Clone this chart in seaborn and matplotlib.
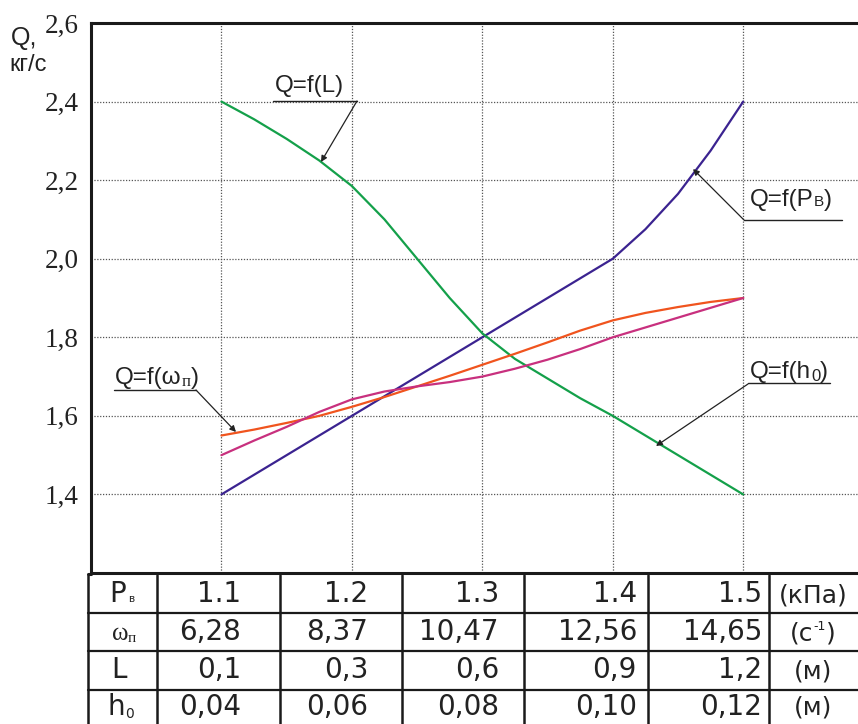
import numpy as np
import pandas as pd
import matplotlib
matplotlib.use("Agg")
import matplotlib.pyplot as plt
from matplotlib.lines import Line2D
import seaborn as sns

# ---------------- data ----------------
p_b = [1.1, 1.125, 1.15, 1.175, 1.2, 1.225, 1.25, 1.275, 1.3,
       1.325, 1.35, 1.375, 1.4, 1.425, 1.45, 1.475, 1.5]            # common abscissa (Pв, kPa)
q_P = [1.40, 1.45, 1.50, 1.55, 1.60, 1.65, 1.70, 1.75, 1.80,
       1.85, 1.90, 1.95, 2.00, 2.075, 2.165, 2.275, 2.40]           # Q=f(Pв)
q_L = [2.40, 2.355, 2.305, 2.25, 2.185, 2.10, 2.00, 1.90, 1.81,
       1.745, 1.695, 1.645, 1.60, 1.55, 1.50, 1.45, 1.40]           # Q=f(L)
q_w = [1.55, 1.565, 1.582, 1.60, 1.623, 1.648, 1.675, 1.702, 1.73,
       1.758, 1.787, 1.817, 1.843, 1.862, 1.877, 1.89, 1.90]        # Q=f(ωп)
q_h = [1.50, 1.537, 1.572, 1.61, 1.642, 1.662, 1.675, 1.686, 1.70,
       1.72, 1.743, 1.77, 1.80, 1.825, 1.85, 1.875, 1.90]           # Q=f(h0)

y_ticks = [1.4, 1.6, 1.8, 2.0, 2.2, 2.4, 2.6]
y_tick_labels = ["1,4", "1,6", "1,8", "2,0", "2,2", "2,4", "2,6"]

tab_x = [1.1, 1.2, 1.3, 1.4, 1.5]
row_P = ["1.1", "1.2", "1.3", "1.4", "1.5"]
row_w = ["6,28", "8,37", "10,47", "12,56", "14,65"]
row_L = ["0,1", "0,3", "0,6", "0,9", "1,2"]
row_h = ["0,04", "0,06", "0,08", "0,10", "0,12"]

# ---------------- style ----------------
sns.set_style("white")
plt.rcParams["font.family"] = ["Liberation Sans", "DejaVu Sans"]

W, H = 858, 724
fig = plt.figure(figsize=(W / 100, H / 100), dpi=100)

def fx(px):
    return px / W

def fy(py):
    return 1 - py / H

ax = fig.add_axes([fx(91), fy(573), fx(858) - fx(91), fy(23) - fy(573)])

colors = {"P": "#3b2390", "L": "#14a04a", "w": "#f0541e", "h": "#c8307e"}
df = pd.DataFrame({"x": p_b, "P": q_P, "L": q_L, "w": q_w, "h": q_h})
long = df.melt(id_vars="x", var_name="series", value_name="Q")
sns.lineplot(data=long, x="x", y="Q", hue="series", palette=colors,
             hue_order=["P", "L", "w", "h"], linewidth=1.6, legend=False,
             ax=ax, zorder=3)

ax.set_xlim(1.0, 1.588)
ax.set_ylim(1.2, 2.6)
ax.set_xticks(tab_x)
ax.set_xticklabels([])
ax.set_yticks(y_ticks)
ax.set_yticklabels(y_tick_labels, family="Liberation Serif", fontsize=19.5,
                   color="#222222")
ax.tick_params(axis="both", length=0, pad=9)
ax.set_xlabel("")
ax.set_ylabel("")
ax.grid(True, color="#555555", linestyle=(0, (1, 1.3)), linewidth=0.9)

for s in ["left", "top", "bottom"]:
    ax.spines[s].set_color("#1a1a1a")
    ax.spines[s].set_linewidth(2.2)
ax.spines["right"].set_visible(False)

# axis title
fig.text(fx(11), fy(38), "Q,", fontsize=18, va="center", ha="left", color="#222222")
fig.text(fx(9), fy(65), "кг/с", fontsize=17, va="center", ha="left", color="#222222")

renderer = fig.canvas.get_renderer()

def rich(x_px, y_px, pieces, ha="left", va="baseline"):
    """pieces: (text, size, dy_px, family)"""
    texts = []
    widths = []
    for t, size, dy, fam in pieces:
        tt = fig.text(0, 0, t, fontsize=size, family=fam, va=va, ha="left",
                      color="#222222")
        texts.append((tt, dy))
        widths.append(tt.get_window_extent(renderer).width)
    total = sum(widths)
    start = x_px
    if ha == "center":
        start = x_px - total / 2
    elif ha == "right":
        start = x_px - total
    cur = start
    for (tt, dy), w in zip(texts, widths):
        tt.set_position((fx(cur), fy(y_px + dy)))
        cur += w
    return texts

# ---------------- annotations ----------------
def to_data(px, py):
    inv = ax.transData.inverted()
    return inv.transform(fig.transFigure.transform((fx(px), fy(py))))

SANS = ["Liberation Sans", "DejaVu Sans"]
SERIF = ["Liberation Serif", "DejaVu Serif"]
ann_size = 17.5

def annotation(text_pieces, tx, ty, ul_x0, ul_x1, ul_y, tail, tip):
    rich(tx, ty, text_pieces)
    fig.add_artist(Line2D([fx(ul_x0), fx(ul_x1)], [fy(ul_y), fy(ul_y)],
                          color="#222222", lw=1.0, transform=fig.transFigure))
    ax.annotate("", xy=to_data(*tip), xytext=to_data(*tail),
                arrowprops=dict(arrowstyle="-|>", color="#222222", lw=0.9,
                                mutation_scale=9, shrinkA=0, shrinkB=0),
                zorder=5)

annotation([("Q=f(L)", ann_size, 0, SANS)], 275, 92, 273, 357, 101,
           (357, 101), (321, 162))
annotation([("Q=f(P", ann_size, 0, SANS), ("В", 11, 0, SANS), (")", ann_size, 0, SANS)],
           750, 206, 744, 842, 220, (744, 220), (693, 169))
annotation([("Q=f(ω", ann_size, 0, SANS), ("п", 12, 2, SERIF), (")", ann_size, 0, SANS)],
           115, 384, 114, 196, 390, (196, 390), (236, 432))
annotation([("Q=f(h", ann_size, 0, SANS), ("0", 12, 3, SANS), (")", ann_size, 0, SANS)],
           750, 378, 748, 830, 383, (748, 384), (656, 446))

# ---------------- table ----------------
row_lines = [575, 613, 651, 690]
col_lines = [88, 157, 280, 402, 524, 648, 769]
for yl in row_lines[1:]:
    fig.add_artist(Line2D([fx(88), fx(858)], [fy(yl), fy(yl)], color="#1a1a1a",
                          lw=1.6, transform=fig.transFigure))
for xl in col_lines:
    fig.add_artist(Line2D([fx(xl), fx(xl)], [fy(575), fy(724)], color="#1a1a1a",
                          lw=1.8, transform=fig.transFigure))
fig.add_artist(Line2D([fx(88), fx(91)], [fy(574), fy(574)], color="#1a1a1a",
                      lw=2.2, transform=fig.transFigure))

row_centers = [594, 632, 670, 707]
col_right = [241, 368, 499, 637, 762]
tsize = 20
for r, vals in enumerate([row_P, row_w, row_L, row_h]):
    for c, v in enumerate(vals):
        fig.text(fx(col_right[c]), fy(row_centers[r]), v, fontsize=tsize,
                 family=["DejaVu Sans"], ha="right", va="center", color="#222222")

base = [r + 8 for r in row_centers]
rich(122, base[0], [("P", tsize, 0, ["DejaVu Sans"]), (" в", 8, 0, SANS)], ha="center")
rich(124, base[1], [("ω", 18, 0, SERIF), ("п", 11, 2, SERIF)], ha="center")
rich(119, base[2], [("L", tsize, 0, ["DejaVu Sans"])], ha="center")
rich(121, base[3], [("h", tsize, 0, ["DejaVu Sans"]), ("0", 10, 3, ["DejaVu Sans"])], ha="center")

rich(813, base[0], [("(кПа)", 18, 0, ["DejaVu Sans"])], ha="center")
rich(813, base[1], [("(с", 18, 0, ["DejaVu Sans"]), ("-1", 9, -10, ["DejaVu Sans"]),
                    (")", 18, 0, ["DejaVu Sans"])], ha="center")
rich(813, base[2], [("(м)", 18, 0, ["DejaVu Sans"])], ha="center")
rich(813, base[3], [("(м)", 18, 0, ["DejaVu Sans"])], ha="center")

fig.savefig("out.png", dpi=100)
